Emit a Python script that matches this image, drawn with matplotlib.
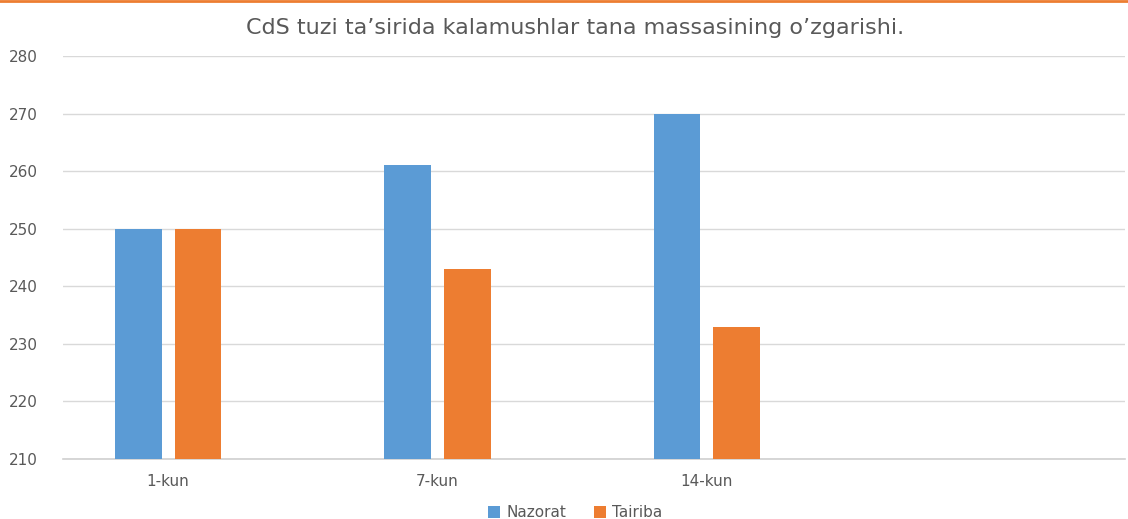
import matplotlib.pyplot as plt
import numpy as np

categories = ['1-kun', '7-kun', '14-kun']
nazorat = [250, 261, 270]
tairiba = [250, 243, 233]

plt.rcParams['font.family'] = ['DejaVu Sans']

fig = plt.figure(figsize=(11.28, 5.19), dpi=100)
ax = fig.add_axes([0.0559, 0.1156, 0.941, 0.7765])

x = np.arange(len(categories))
w = 0.174
off = 0.111
ax.bar(x - off, np.array(nazorat) - 210, w, bottom=210, color='#5B9BD5', label='Nazorat', zorder=3)
ax.bar(x + off, np.array(tairiba) - 210, w, bottom=210, color='#ED7D31', label='Tairiba', zorder=3)

ax.set_ylim(210, 280)
ax.set_xlim(-0.39, 3.55)
ax.set_yticks(range(210, 281, 10))
ax.set_xticks(x)
ax.set_xticklabels(categories)
ax.tick_params(axis='both', length=0, labelsize=11, colors='#595959', pad=11)
ax.tick_params(axis='y', pad=18)
ax.grid(axis='y', color='#d9d9d9', linewidth=1, zorder=0)
for s in ['top', 'right', 'left']:
    ax.spines[s].set_visible(False)
ax.spines['bottom'].set_color('#d0d0d0')
ax.spines['bottom'].set_linewidth(1.2)

fig.text(0.51, 0.946, 'CdS tuzi ta\u2019sirida kalamushlar tana massasining o\u2019zgarishi.',
         ha='center', va='center', fontsize=16, color='#595959')

fig.legend(loc='center', bbox_to_anchor=(0.51, 0.012), ncol=2, frameon=False,
           fontsize=11, labelcolor='#595959', handlelength=0.8, handleheight=0.8,
           columnspacing=1.8, handletextpad=0.4)

# orange strip at top edge
fig.add_artist(plt.Line2D([0, 1], [0.998, 0.998], color='#ED7D31', linewidth=2, transform=fig.transFigure))

fig.savefig('out.png', dpi=100)
